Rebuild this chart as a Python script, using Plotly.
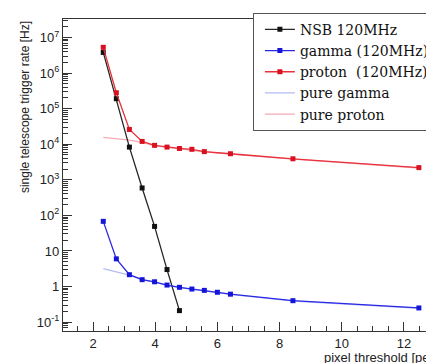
import plotly.graph_objects as go

# ---- data ----
threshold = [2.33, 2.75, 3.17, 3.58, 3.98, 4.38, 4.78, 5.18, 5.58, 6.0, 6.42, 8.43, 12.48]

nsb_x = [2.33, 2.75, 3.17, 3.58, 3.98, 4.38, 4.78]
nsb_rate = [3.8e6, 1.9e5, 8.3e3, 5.9e2, 49, 3.0, 0.21]

gamma_rate = [68, 6.0, 2.15, 1.56, 1.36, 1.1, 0.95, 0.85, 0.78, 0.69, 0.61, 0.40, 0.25]
pure_gamma_rate = [3.2, 2.6, 2.1, 1.53, 1.33, 1.08, 0.93, 0.83, 0.76, 0.68, 0.60, 0.39, 0.245]

proton_x = [2.33, 2.75, 3.17, 3.58, 3.98, 4.38, 4.78, 5.18, 5.58, 6.42, 8.43, 12.48]
proton_rate = [5.3e6, 2.8e5, 2.6e4, 1.2e4, 9.3e3, 8.3e3, 7.6e3, 7.2e3, 6.2e3, 5.4e3, 3.9e3, 2.2e3]
pure_proton_rate = [1.55e4, 1.4e4, 1.3e4, 1.12e4, 9.0e3, 8.1e3, 7.4e3, 7.0e3, 6.1e3, 5.3e3, 3.8e3, 2.15e3]

y_tickvals = [0.1, 1, 10, 1e2, 1e3, 1e4, 1e5, 1e6, 1e7]
y_ticktext = ["10<sup>-1</sup>", "1", "10", "10<sup>2</sup>", "10<sup>3</sup>",
              "10<sup>4</sup>", "10<sup>5</sup>", "10<sup>6</sup>", "10<sup>7</sup>"]
x_tickvals = [2, 4, 6, 8, 10, 12]

# minor log ticks: 2..9 within each decade
y_minor = [m * d for d in [0.01, 0.1, 1, 10, 1e2, 1e3, 1e4, 1e5, 1e6, 1e7] for m in range(2, 10)]

fig = go.Figure()

# pure curves first (drawn underneath)
fig.add_trace(go.Scatter(x=threshold, y=pure_gamma_rate, mode="lines", name="pure gamma",
                         legendrank=4, line=dict(color="#b4bcf2", width=1.3)))
fig.add_trace(go.Scatter(x=proton_x, y=pure_proton_rate, mode="lines", name="pure proton",
                         legendrank=5, line=dict(color="#f5aab4", width=1.3)))
fig.add_trace(go.Scatter(x=nsb_x, y=nsb_rate, mode="lines+markers", name="NSB 120MHz",
                         legendrank=1, line=dict(color="#262626", width=1.3),
                         marker=dict(color="#111111", size=5, symbol="square")))
fig.add_trace(go.Scatter(x=threshold, y=gamma_rate, mode="lines+markers", name="gamma (120MHz)",
                         legendrank=2, line=dict(color="#2a2ae6", width=1.3),
                         marker=dict(color="#1515d8", size=5, symbol="square")))
fig.add_trace(go.Scatter(x=proton_x, y=proton_rate, mode="lines+markers", name="proton  (120MHz)",
                         legendrank=3, line=dict(color="#e8303a", width=1.3),
                         marker=dict(color="#d81020", size=5, symbol="square")))

axis_font = dict(family="Liberation Sans, Arial, sans-serif", size=13, color="#222")

# The page body has an 8px default margin, so margins are reduced by 8px on top/left.
fig.update_layout(
    width=434, height=363,
    margin=dict(l=55, r=11, t=5, b=40, pad=0),
    paper_bgcolor="white", plot_bgcolor="white",
    showlegend=True,
    legend=dict(x=0.516, y=1.02, xanchor="left", yanchor="top",
                bgcolor="white", bordercolor="#555", borderwidth=1,
                font=dict(family="DejaVu Serif, Liberation Serif, serif", size=14, color="#111"),
                itemwidth=30, indentation=6, tracegroupgap=0),
    xaxis=dict(range=[1.035, 12.87], tickvals=x_tickvals, ticks="inside", ticklen=9,
               tickcolor="#333", showline=True, linecolor="#333", linewidth=1.2, mirror=True,
               showgrid=False, zeroline=False, tickfont=axis_font,
               minor=dict(ticks="inside", ticklen=5, dtick=0.5, tickcolor="#333", showgrid=False)),
    yaxis=dict(type="log", range=[-1.25, 7.52], tickvals=y_tickvals, ticktext=y_ticktext,
               ticks="inside", ticklen=9, tickcolor="#333", showline=True, linecolor="#333",
               linewidth=1.2, mirror=True, showgrid=False, zeroline=False, tickfont=axis_font,
               minor=dict(ticks="inside", ticklen=5, tickmode="array", tickvals=y_minor,
                          tickcolor="#333", showgrid=False)),
    annotations=[
        dict(text="single telescope trigger rate [Hz]", xref="paper", yref="paper",
             x=-0.103, y=1.0, xanchor="center", yanchor="top", textangle=-90,
             showarrow=False, font=dict(family="Liberation Sans, Arial, sans-serif", size=12, color="#222")),
        dict(text="pixel threshold [pe]", xref="paper", yref="paper",
             x=0.704, y=-0.085, xanchor="left", yanchor="middle",
             showarrow=False, font=dict(family="Liberation Sans, Arial, sans-serif", size=13, color="#222")),
    ],
)

fig.write_html("out.html")
